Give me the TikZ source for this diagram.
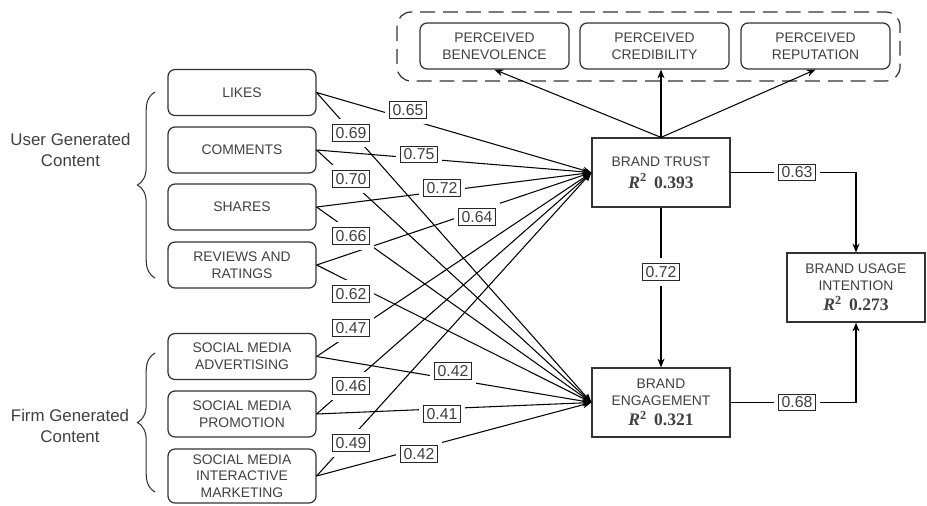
\documentclass[tikz,border=0pt]{standalone}
\usepackage{fontspec}
\setmainfont{Liberation Sans}
\newfontfamily\rfont{Liberation Serif}
\usepackage{tikz}
\usetikzlibrary{arrows.meta}
\usetikzlibrary{decorations.pathreplacing}
\newcommand{\rsq}[1]{{\rfont\fontsize{10}{10}\selectfont\bfseries\textit{R}\textsuperscript{2}\hspace{4pt}#1}}

\begin{document}
\begin{tikzpicture}[x=0.02cm, y=-0.02cm,
txt/.style={text=black!75, font=\fontsize{7.9}{9.5}\selectfont, align=center},
src/.style={txt, draw=black!80, rounded corners=4pt, line width=0.7pt, minimum width=2.96cm, minimum height=0.92cm, inner sep=0pt},
cons/.style={txt, draw=black!80, line width=0.7pt, minimum width=2.76cm, minimum height=1.38cm, inner sep=0pt},
link/.style={line width=0.6pt, -{Stealth[length=5pt,width=4pt]}},
wt/.style={draw=black!85, fill=white, text=black!75, line width=0.55pt, inner sep=1.6pt, font=\fontsize{9}{10}\selectfont, preaction={draw=white, line width=6pt}},
grp/.style={text=black!75, font=\fontsize{9.6}{11.5}\selectfont, align=center}
]
\useasboundingbox (0,0) rectangle (927,505);
% draws source boxes
\node[src] (likes) at (242,92.5) {LIKES};
\node[src] (comments) at (242,150) {COMMENTS};
\node[src] (shares) at (242,207) {SHARES};
\node[src] (reviews) at (242,265) {REVIEWS AND\\RATINGS};
\node[src] (advert) at (242,356.5) {SOCIAL MEDIA\\ADVERTISING};
\node[src] (promo) at (242,414) {SOCIAL MEDIA\\PROMOTION};
\node[src, minimum height=1.08cm] (inter) at (242,476) {SOCIAL MEDIA\\INTERACTIVE\\MARKETING};
% draws groups
\node[grp] (ugc) at (70.5,150) {User Generated\\Content};
\node[grp] (fgc) at (70,426) {Firm Generated\\Content};
\draw[black!80, line width=0.6pt, decorate, decoration={brace, amplitude=10pt}] (155,278) -- (155,92);
\draw[black!80, line width=0.6pt, decorate, decoration={brace, amplitude=10pt}] (155,492) -- (155,353);
% draws trust dimensions
\draw[black!80, line width=0.7pt, dash pattern=on 8.5pt off 4.5pt, rounded corners=8pt] (397,12) rectangle (900,81);
\node[src, minimum width=2.98cm] (bene) at (494.5,46) {PERCEIVED\\BENEVOLENCE};
\node[src, minimum width=2.98cm] (cred) at (654.5,46) {PERCEIVED\\CREDIBILITY};
\node[src, minimum width=2.98cm] (rep) at (815.5,46) {PERCEIVED\\REPUTATION};
% draws constructs
\node[cons] (trust) at (661,172.5) {BRAND TRUST\\[3pt]\rsq{0.393}};
\node[cons] (engage) at (661,402.5) {BRAND\\ENGAGEMENT\\[2pt]\rsq{0.321}};
\node[cons] (usage) at (856,287.5) {BRAND USAGE\\INTENTION\\[2pt]\rsq{0.273}};
% draws edges to brand trust
\draw[link] (likes.east) -- (trust.west);
\draw[link] (comments.east) -- (trust.west);
\draw[link] (shares.east) -- (trust.west);
\draw[link] (reviews.east) -- (trust.west);
\draw[link] (advert.east) -- (trust.west);
\draw[link] (promo.east) -- (trust.west);
\draw[link] (inter.east) -- (trust.west);
% draws edges to brand engagement
\draw[link] (likes.east) -- (engage.west);
\draw[link] (comments.east) -- (engage.west);
\draw[link] (shares.east) -- (engage.west);
\draw[link] (reviews.east) -- (engage.west);
\draw[link] (advert.east) -- (engage.west);
\draw[link] (promo.east) -- (engage.west);
\draw[link] (inter.east) -- (engage.west);
% draws the other edges
\draw[link] (trust.north) -- (bene.south);
\draw[link] (trust.north) -- (trust.north |- cred.south);
\draw[link] (trust.north) -- (rep.south);
\draw[link] (trust.south) -- (engage.north);
\draw[link] (trust.east) -| (usage.north);
\draw[link] (engage.east) -| (usage.south);
% labels weights
\node[wt] (w1) at (408,110) {0.65};
\node[wt] (w2) at (351,133) {0.69};
\node[wt] (w3) at (419,154.5) {0.75};
\node[wt] (w4) at (351,179) {0.70};
\node[wt] (w5) at (442,188) {0.72};
\node[wt] (w6) at (477,217) {0.64};
\node[wt] (w7) at (351,236) {0.66};
\node[wt] (w8) at (351,294) {0.62};
\node[wt] (w9) at (351,328) {0.47};
\node[wt] (w10) at (453,371) {0.42};
\node[wt] (w11) at (351,386) {0.46};
\node[wt] (w12) at (442,414) {0.41};
\node[wt] (w13) at (351,443) {0.49};
\node[wt] (w14) at (419,454) {0.42};
\node[wt] (w15) at (661,272) {0.72};
\node[wt] (w16) at (797,172.5) {0.63};
\node[wt] (w17) at (797,402.5) {0.68};
\end{tikzpicture}
\end{document}
